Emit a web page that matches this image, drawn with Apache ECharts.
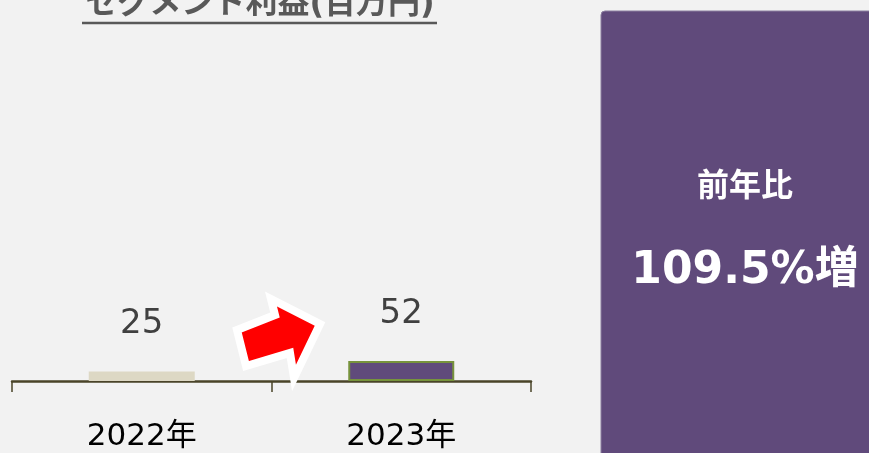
<!DOCTYPE html>
<html>
<head>
<meta charset="utf-8">
<script src="https://cdn.jsdelivr.net/npm/echarts@6/dist/echarts.min.js"></script>
<style>
  html, body { margin: 0; padding: 0; background: #f2f2f2; }
  #chart { width: 869px; height: 453px; }
</style>
</head>
<body>
<div id="chart"></div>
<script>
// セグメント利益(百万円)
var categories = ["2022年", "2023年"];
var profit = [25, 52];
var titleText = "セグメント利益(百万円)";
var yoyLabel = "前年比";
var yoyValue = "109.5%増";

var jpFont = '"DejaVu Sans", "Noto Sans CJK JP", sans-serif';

var chartNode = document.getElementById("chart");
var myChart = echarts.init(chartNode);

var option = {
  backgroundColor: "#f2f2f2",
  animation: false,
  grid: { left: 12, right: 338, top: 35, bottom: 72 },
  xAxis: {
    type: "category",
    data: categories,
    axisLine: { lineStyle: { color: "#4a4429", width: 2.5 } },
    axisTick: { show: true, length: 11, lineStyle: { color: "#4a4429", width: 1.5 } },
    axisLabel: { color: "#000", fontSize: 31, fontFamily: jpFont, margin: 40 }
  },
  yAxis: {
    type: "value",
    min: 0,
    max: 900,
    show: false
  },
  series: [{
    type: "bar",
    barWidth: 106,
    data: [
      { value: profit[0], itemStyle: { color: "#ddd8c4" } },
      { value: profit[1], itemStyle: { color: "#604a7b", borderColor: "#77933c", borderWidth: 2 } }
    ],
    label: {
      show: true,
      position: "top",
      distance: 30,
      fontSize: 34,
      color: "#404040",
      fontFamily: jpFont
    }
  }],
  graphic: [
    {
      type: "text",
      x: 260, y: 21,
      style: { text: titleText, font: "bold 32px " + jpFont, fill: "#595959", align: "center", verticalAlign: "bottom" }
    },
    {
      type: "line",
      shape: { x1: 82, y1: 23, x2: 437, y2: 23 },
      style: { stroke: "#595959", lineWidth: 2.5 }
    },
    {
      type: "polygon",
      shape: { points: [[237, 330], [275, 315], [271, 299], [320, 324], [294, 378], [290, 353], [246, 366]] },
      style: { fill: "#ff0000", stroke: "#ffffff", lineWidth: 8, lineJoin: "miter" },
      z: 10
    },
    {
      type: "rect",
      shape: { x: 601, y: 11, width: 290, height: 460, r: 4 },
      style: { fill: "#604a7b", stroke: "#8b7ea0", lineWidth: 1 }
    },
    {
      type: "text",
      x: 745, y: 188,
      style: { text: yoyLabel, font: "bold 32px " + jpFont, fill: "#fff", align: "center", verticalAlign: "middle" }
    },
    {
      type: "text",
      x: 745, y: 272,
      style: { text: yoyValue, font: "bold 44px " + jpFont, fill: "#fff", align: "center", verticalAlign: "middle" }
    }
  ]
};

myChart.setOption(option);
window.addEventListener("resize", function () { myChart.resize(); });
</script>
</body>
</html>
